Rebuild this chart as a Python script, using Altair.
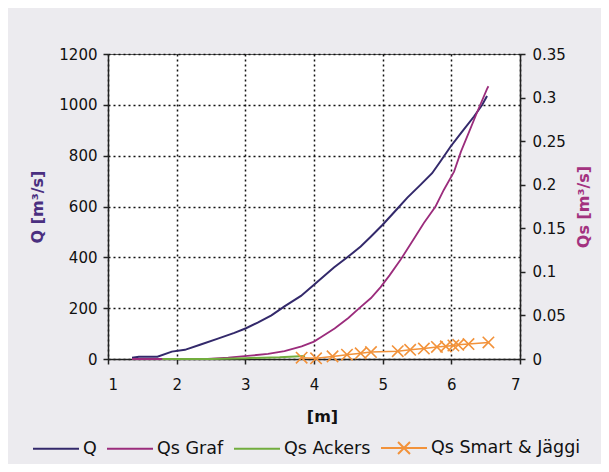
import altair as alt
import pandas as pd

# ---- data ----
series_names = ["Q", "Qs Graf", "Qs Ackers", "Qs Smart & Jäggi"]
series_colors = ["#33296b", "#9b2c7c", "#72ad3e", "#f2923a"]

q_x = [1.35, 1.45, 1.72, 1.93, 2.12, 2.34, 2.59, 2.84, 3.01, 3.18, 3.38, 3.57,
       3.81, 4.0, 4.29, 4.49, 4.68, 4.83, 5.0, 5.21, 5.36, 5.55, 5.72, 5.84,
       5.99, 6.14, 6.33, 6.45, 6.52]
q_v = [5, 9, 9, 29, 36, 56, 79, 103, 121, 143, 172, 207,
       248, 292, 360, 401, 443, 482, 528, 590, 635, 685, 731, 777,
       836, 889, 954, 1000, 1035]

graf_x = [1.35, 1.79, 2.45, 2.75, 3.03, 3.33, 3.57, 3.82, 4.0, 4.1, 4.3, 4.5,
          4.66, 4.83, 4.97, 5.1, 5.26, 5.46, 5.6, 5.77, 5.89, 6.04, 6.14, 6.26,
          6.38, 6.52, 6.54]
graf_v = [0, 0, 0, 0.0015, 0.0035, 0.006, 0.009, 0.0145, 0.02, 0.025, 0.035, 0.047,
          0.0583, 0.07, 0.0825, 0.096, 0.1138, 0.1385, 0.156, 0.175, 0.194, 0.215, 0.238, 0.261,
          0.284, 0.31, 0.313]

ackers_x = [1.79, 2.5, 3.0, 3.5, 3.87]
ackers_v = [0, 0, 0.001, 0.002, 0.0035]

smart_x = [3.82, 4.03, 4.27, 4.48, 4.68, 4.83, 5.22, 5.40, 5.60, 5.79, 5.92,
           6.03, 6.10, 6.25, 6.54]
smart_v = [0.0015, 0.0008, 0.003, 0.005, 0.0065, 0.008, 0.009, 0.0105, 0.012,
           0.0138, 0.0145, 0.0155, 0.0163, 0.0172, 0.019]

x_ticks = [1, 2, 3, 4, 5, 6, 7]
q_ticks = [0, 200, 400, 600, 800, 1000, 1200]
qs_ticks = [0, 0.05, 0.1, 0.15, 0.2, 0.25, 0.3, 0.35]

rows = []
for name, xs, vs in [("Q", q_x, q_v), ("Qs Graf", graf_x, graf_v),
                     ("Qs Ackers", ackers_x, ackers_v),
                     ("Qs Smart & Jäggi", smart_x, smart_v)]:
    for xv, vv in zip(xs, vs):
        rows.append({"x": xv, "v": vv, "series": name})
df = pd.DataFrame(rows)

FONT = "DejaVu Sans"
line_path = "M-1,0H1"
cross_legend_path = "M-1,0H1M-0.26,-0.26L0.26,0.26M-0.26,0.26L0.26,-0.26"
legend_shapes = [line_path, line_path, line_path, cross_legend_path]
marker_path = "M-1,-1L1,1M-1,1L1,-1"

color_scale = alt.Scale(domain=series_names, range=series_colors)

legend_cfg = alt.Legend(
    title=None, orient="none", legendX=-76, legendY=370, direction="horizontal",
    symbolSize=2116, symbolStrokeWidth=2, labelFont=FONT, labelFontSize=17.5,
    labelColor="#111111", labelOffset=3, columnPadding=6, padding=0,
    symbolFillColor="transparent",
)

color_enc = alt.Color("series:N", scale=color_scale, legend=legend_cfg)

x_enc = alt.X(
    "x:Q",
    scale=alt.Scale(domain=[1, 7], nice=False, zero=False),
    axis=alt.Axis(values=x_ticks, format="d", title="[m]", grid=True,
                  labelPadding=13, titleX=214, titleY=57,
                  titleBaseline="middle", titleAlign="center"),
)

base = alt.Chart(df)

left = base.transform_filter(alt.datum.series == "Q").mark_line(strokeWidth=2).encode(
    x=x_enc,
    y=alt.Y("v:Q", scale=alt.Scale(domain=[0, 1200], nice=False),
            axis=alt.Axis(values=q_ticks, format="d", title="Q [m³/s]", grid=True,
                          orient="left", labelPadding=6, titleColor="#4a2f80",
                          titleX=-71, titleY=152.5, titleAngle=270,
                          titleBaseline="middle", titleAlign="center")),
    color=color_enc,
)

qs_y = alt.Y("v:Q", scale=alt.Scale(domain=[0, 0.35], nice=False),
             axis=alt.Axis(values=qs_ticks, format="~g", title="Qs [m³/s]", grid=False,
                           orient="right", labelPadding=7, titleColor="#a3327f",
                           titleX=63, titleY=152.5, titleAngle=270,
                           titleBaseline="middle", titleAlign="center"))

def right_line(name, width):
    return base.transform_filter(alt.datum.series == name).mark_line(strokeWidth=width).encode(
        x=x_enc, y=qs_y, color=color_enc,
    )

graf = right_line("Qs Graf", 1.8)
ackers = right_line("Qs Ackers", 2)
smart_line = right_line("Qs Smart & Jäggi", 1.5)

smart_pts = base.transform_filter(alt.datum.series == "Qs Smart & Jäggi").mark_point(
    shape=marker_path, filled=False, size=130, strokeWidth=1.6, opacity=1
).encode(
    x=x_enc, y=qs_y, color=color_enc,
)

legend_layer = base.transform_filter("false").mark_point(
    filled=False, opacity=1, strokeWidth=2
).encode(
    x=x_enc, y=qs_y,
    color=color_enc,
    shape=alt.Shape("series:N", scale=alt.Scale(domain=series_names, range=legend_shapes),
                    legend=legend_cfg),
)

right = alt.layer(graf, ackers, smart_line, smart_pts, legend_layer)

chart = alt.layer(left, right).resolve_scale(y="independent").properties(
    width=412, height=305,
    autosize=alt.AutoSizeParams(type="none"),
    padding={"left": 100, "top": 46, "right": 81, "bottom": 105},
    background="#ecebef",
).configure_view(
    fill="white", stroke="#555555", strokeWidth=1
).configure_axis(
    domainColor="#222222", domainWidth=1.5, tickColor="#222222", tickWidth=1.5,
    tickSize=5, labelFont=FONT, labelFontSize=15, labelColor="#111111",
    gridColor="#111111", gridDash=[2, 3], gridWidth=1.5,
    titleFont=FONT, titleFontSize=16, titleFontWeight="bold", titleColor="#111111",
)

chart.save("out.html", embed_options={"renderer": "svg", "actions": False})
